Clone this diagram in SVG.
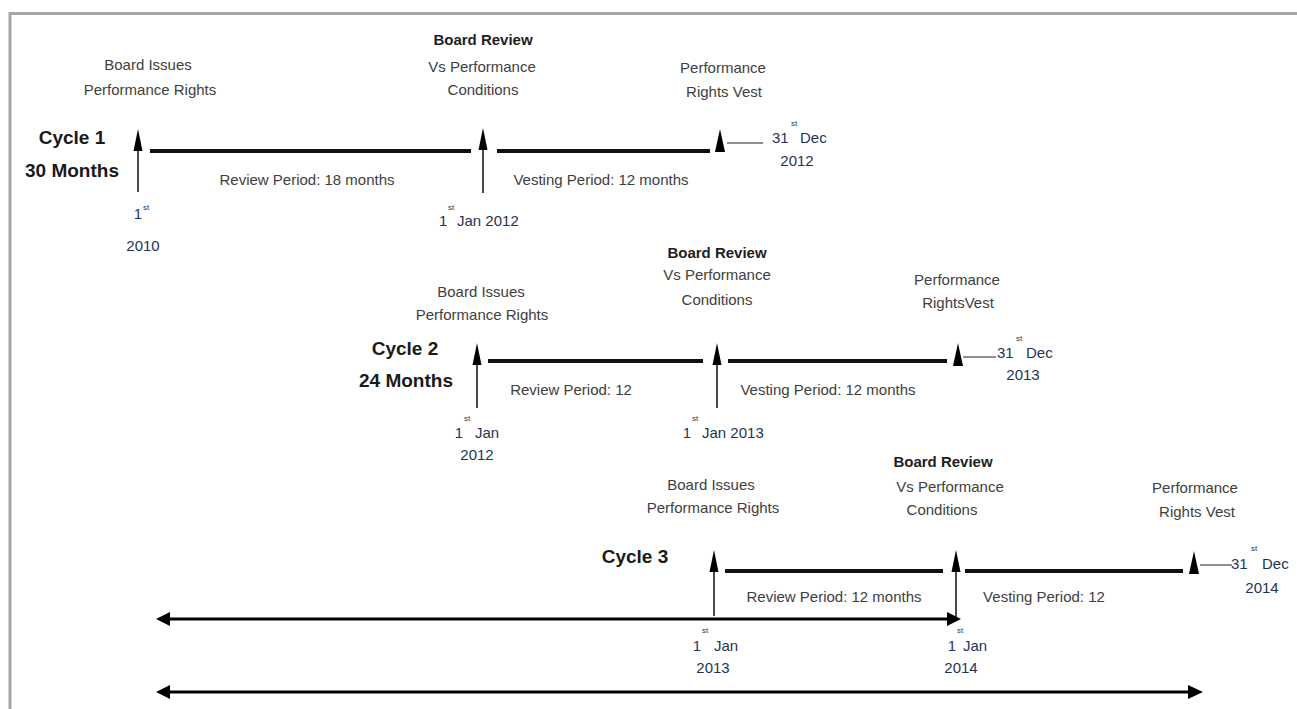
<svg xmlns="http://www.w3.org/2000/svg" width="1297" height="709" viewBox="0 0 1297 709">
<style>
.lbl{font-family:"Liberation Sans",Arial,sans-serif;font-size:15px;fill:#404040;text-anchor:middle}
.bld{font-family:"Liberation Sans",Arial,sans-serif;font-size:15px;font-weight:bold;fill:#1e1e1e;text-anchor:middle}
.cyc{font-family:"Liberation Sans",Arial,sans-serif;font-size:19px;font-weight:bold;fill:#1a1a1a;text-anchor:middle}
.dt{font-family:"Liberation Sans",Arial,sans-serif;font-size:15px;fill:#1f3556}
.dtm{font-family:"Liberation Sans",Arial,sans-serif;font-size:15px;fill:#1f3556;text-anchor:middle}
.sup{font-family:"Liberation Sans",Arial,sans-serif;font-size:8px;fill:#1f3556}
.bar{stroke:#111;stroke-width:4;fill:none}
.shaft{stroke:#4a4a4a;stroke-width:2;fill:none}
.tick{stroke:#6a6a6a;stroke-width:1.5;fill:none}
.head{fill:#000}
.span{stroke:#000;stroke-width:3;fill:none}
.frame{stroke:#a6a6a6;stroke-width:3;fill:none}
</style>
<defs>
<polygon id="uph" points="0,0 -4.5,22 4.5,22"/>
<polygon id="tri" points="0,0 -5,23 5,23"/>
</defs>
<rect width="1297" height="709" fill="#fff"/>
<path class="frame" d="M10,709 V13.5 H1297"/>

<g id="cycle1">
<text class="cyc" x="72" y="144">Cycle 1</text>
<text class="cyc" x="72" y="177">30 Months</text>
</g>
<g id="c1-issue">
<text class="lbl" x="148" y="70">Board Issues</text>
<text class="lbl" x="150" y="95">Performance Rights</text>
</g>
<g id="c1-review">
<text class="bld" x="483" y="45">Board Review</text>
<text class="lbl" x="482" y="72">Vs Performance</text>
<text class="lbl" x="483" y="95">Conditions</text>
</g>
<g id="c1-vest">
<text class="lbl" x="723" y="73">Performance</text>
<text class="lbl" x="724" y="97">Rights Vest</text>
</g>
<g id="c1-periods">
<text class="lbl" x="307" y="185">Review Period: 18 months</text>
<text class="lbl" x="601" y="185">Vesting Period: 12 months</text>
</g>
<g id="c1-dates">
<text class="dtm" x="138" y="219">1</text><text class="sup" x="143" y="210">st</text>
<text class="dtm" x="143" y="251">2010</text>
<text class="dt" x="439" y="226">1</text><text class="sup" x="448" y="210">st</text>
<text class="dt" x="457" y="226">Jan  2012</text>
<text class="dt" x="772" y="143">31</text><text class="sup" x="791" y="126">st</text>
<text class="dt" x="800" y="143">Dec</text>
<text class="dtm" x="797" y="166">2012</text>
</g>

<g id="cycle2">
<text class="cyc" x="405" y="355">Cycle 2</text>
<text class="cyc" x="406" y="387">24 Months</text>
</g>
<g id="c2-issue">
<text class="lbl" x="481" y="297">Board Issues</text>
<text class="lbl" x="482" y="320">Performance Rights</text>
</g>
<g id="c2-review">
<text class="bld" x="717" y="258">Board Review</text>
<text class="lbl" x="717" y="280">Vs Performance</text>
<text class="lbl" x="717" y="305">Conditions</text>
</g>
<g id="c2-vest">
<text class="lbl" x="957" y="285">Performance</text>
<text class="lbl" x="958" y="308">RightsVest</text>
</g>
<g id="c2-periods">
<text class="lbl" x="571" y="395">Review Period: 12</text>
<text class="lbl" x="828" y="395">Vesting Period: 12 months</text>
</g>
<g id="c2-dates">
<text class="dtm" x="459" y="438">1</text><text class="sup" x="464" y="421">st</text>
<text class="dt" x="475" y="438">Jan</text>
<text class="dtm" x="477" y="460">2012</text>
<text class="dtm" x="687" y="438">1</text><text class="sup" x="692" y="421">st</text>
<text class="dt" x="702" y="438">Jan 2013</text>
<text class="dt" x="997" y="358">31</text><text class="sup" x="1016" y="341">st</text>
<text class="dt" x="1026" y="358">Dec</text>
<text class="dtm" x="1023" y="380">2013</text>
</g>

<g id="cycle3">
<text class="cyc" x="635" y="563">Cycle 3</text>
</g>
<g id="c3-issue">
<text class="lbl" x="711" y="490">Board Issues</text>
<text class="lbl" x="713" y="513">Performance Rights</text>
</g>
<g id="c3-review">
<text class="bld" x="943" y="467">Board Review</text>
<text class="lbl" x="950" y="492">Vs Performance</text>
<text class="lbl" x="942" y="515">Conditions</text>
</g>
<g id="c3-vest">
<text class="lbl" x="1195" y="493">Performance</text>
<text class="lbl" x="1197" y="517">Rights Vest</text>
</g>
<g id="c3-periods">
<text class="lbl" x="834" y="602">Review Period: 12 months</text>
<text class="lbl" x="1044" y="602">Vesting Period: 12</text>
</g>
<g id="c3-dates">
<text class="dtm" x="697" y="651">1</text><text class="sup" x="702" y="633">st</text>
<text class="dt" x="714" y="651">Jan</text>
<text class="dtm" x="713" y="673">2013</text>
<text class="dtm" x="952" y="651">1</text><text class="sup" x="957" y="633">st</text>
<text class="dt" x="963" y="651">Jan</text>
<text class="dtm" x="961" y="673">2014</text>
<text class="dt" x="1231" y="569">31</text><text class="sup" x="1251" y="551">st</text>
<text class="dt" x="1262" y="569">Dec</text>
<text class="dtm" x="1262" y="593">2014</text>
</g>

<g id="connectors">
<!-- cycle 1 -->
<path class="shaft" d="M138,192 V148"/><use href="#uph" x="138" y="129"/>
<path class="bar" d="M150,151 H471"/>
<path class="shaft" d="M483,193 V148"/><use href="#uph" x="483" y="128"/>
<path class="bar" d="M497,151 H710"/>
<use href="#tri" x="720" y="129"/>
<path class="tick" d="M727,143 H763"/>
<!-- cycle 2 -->
<path class="shaft" d="M477,408 V362"/><use href="#uph" x="477" y="343"/>
<path class="bar" d="M488,361 H703"/>
<path class="shaft" d="M717,408 V362"/><use href="#uph" x="717" y="343"/>
<path class="bar" d="M728,361 H947"/>
<use href="#tri" x="958" y="343"/>
<path class="tick" d="M963,357 H996"/>
<!-- cycle 3 -->
<path class="shaft" d="M714,616 V569"/><use href="#uph" x="714" y="550"/>
<path class="bar" d="M725,571 H943"/>
<path class="shaft" d="M956,618 V569"/><use href="#uph" x="956" y="550"/>
<path class="bar" d="M965,571 H1183"/>
<use href="#tri" x="1194" y="551"/>
<path class="tick" d="M1200,565 H1232"/>
<!-- spans -->
<path class="span" d="M168,619 H948"/>
<polygon class="head" points="156,619 170,612 170,626"/>
<polygon class="head" points="961,619 947,612 947,626"/>
<path class="span" d="M168,692 H1190"/>
<polygon class="head" points="156,692 170,685 170,699"/>
<polygon class="head" points="1203,692 1188,685 1188,699"/>
</g>
</svg>
